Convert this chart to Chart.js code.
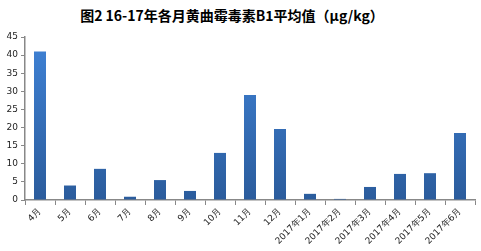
<!DOCTYPE html>
<html><head><meta charset="utf-8">
<script src="https://cdn.jsdelivr.net/npm/chart.js@4/dist/chart.umd.min.js"></script>
<style>
html,body{margin:0;padding:0;background:#fff;}
#wrap{position:relative;width:481px;height:251px;}
#title{position:absolute;top:5px;left:0;width:464px;text-align:center;font:bold 14px "Noto Sans CJK SC",sans-serif;color:#000;white-space:nowrap;}
canvas{position:absolute;left:0;top:0;}
</style></head><body>
<div id="wrap"><div id="title">图2 16-17年各月黄曲霉毒素B1平均值（μg/kg）</div><canvas id="c" width="481" height="251"></canvas></div>
<script>
const categories = ["4月","5月","6月","7月","8月","9月","10月","11月","12月","2017年1月","2017年2月","2017年3月","2017年4月","2017年5月","2017年6月"];
const values = [41, 4, 8.6, 0.9, 5.5, 2.5, 13, 29, 19.6, 1.7, 0.3, 3.6, 7.2, 7.4, 18.5];
const yTicks = [0,5,10,15,20,25,30,35,40,45];

function grad(ctx){
  const ch = ctx.chart, a = ch.chartArea;
  if(!a) return '#3a74c0';
  const g = ch.ctx.createLinearGradient(0, a.top, 0, a.bottom);
  g.addColorStop(0, '#3f82d6');
  g.addColorStop(1, '#2b5c9c');
  return g;
}
new Chart(document.getElementById('c'), {
  type: 'bar',
  data: { labels: categories, datasets: [{ data: values, backgroundColor: grad, barPercentage: 0.4, categoryPercentage: 1 }] },
  options: {
    responsive: false, animation: false, devicePixelRatio: 1,
    layout: { padding: { top: 37, right: 6, left: 0, bottom: 0 } },
    plugins: { legend: { display: false }, tooltip: { enabled: false }, title: { display: false } },
    scales: {
      x: {
        offset: true,
        grid: { display: true, drawOnChartArea: false, tickLength: 5, color: '#888', offset: true },
        border: { color: '#888', width: 1.5 },
        ticks: { minRotation: 45, maxRotation: 45, font: { family: 'DejaVu Sans', size: 9 }, color: '#222', padding: 1, autoSkip: false },
        afterFit: s => { s.height = 51; }
      },
      y: {
        min: 0, max: 45,
        afterBuildTicks: s => { s.ticks = yTicks.map(v => ({ value: v })); },
        grid: { display: true, drawOnChartArea: false, tickLength: 4, color: '#888' },
        border: { color: '#888', width: 1.5 },
        ticks: { font: { family: 'DejaVu Sans', size: 9 }, color: '#222', padding: 3 },
        afterFit: s => { s.width = 25; }
      }
    }
  }
});
</script></body></html>
